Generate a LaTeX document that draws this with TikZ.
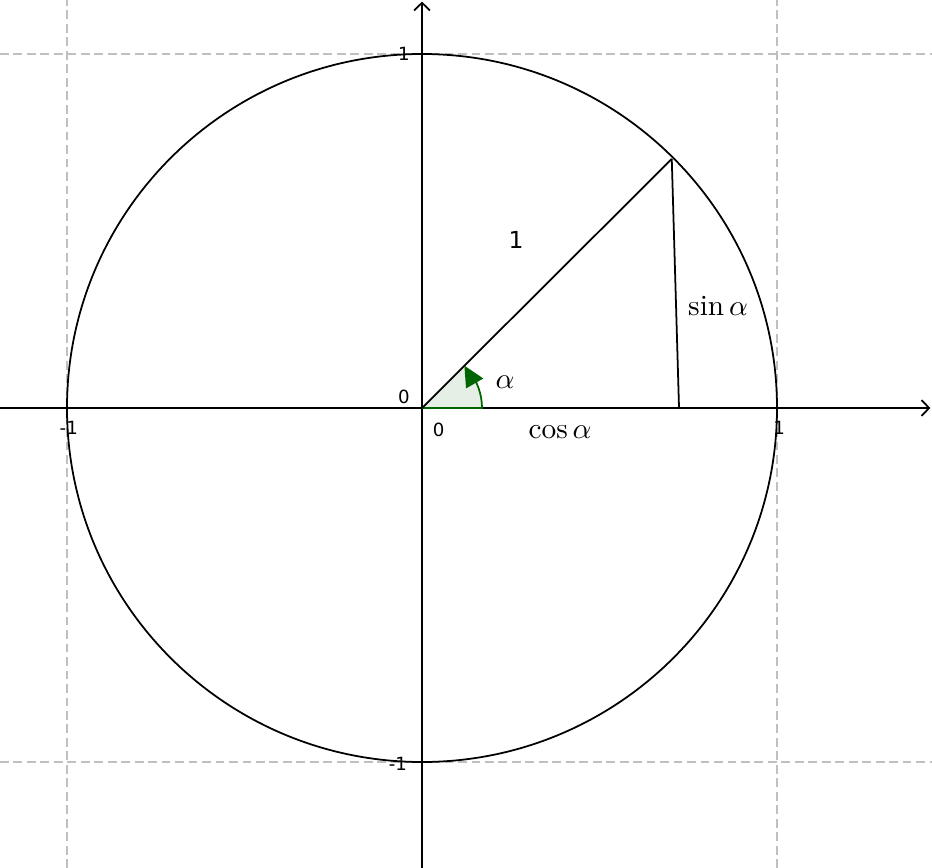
\documentclass[tikz,border=0pt]{standalone}
\usepackage{fontspec}
\newfontfamily\ggbfont{DejaVu Sans}
\usetikzlibrary{arrows.meta}
\definecolor{ggbgreen}{RGB}{0,100,0}
\definecolor{gridgray}{RGB}{192,192,192}

\tikzset{
    gridline/.style={gridgray, line width=0.6pt, dash pattern=on 3pt off 1.6pt},
    axis/.style={line width=0.6pt, -{Straight Barb[length=2.6pt,width=5.4pt]}},
    ticklabel/.style={font=\ggbfont\fontsize{6.2}{7}\selectfont, inner sep=0pt},
}

\begin{document}
\begin{tikzpicture}[x=4.26cm, y=4.248cm, line width=0.6pt]
    \useasboundingbox (-1.1887,-1.2994) rectangle (1.4366,1.1525);

    % grid
    \draw[gridline] (-1,-1.2994) -- (-1,1.1525);
    \draw[gridline] (1,-1.2994) -- (1,1.1525);
    \draw[gridline] (-1.1887,1) -- (1.4366,1);
    \draw[gridline] (-1.1887,-1) -- (1.4366,-1);

    % axes
    \coordinate (O) at (0,0);
    \coordinate (xl) at (-1.1887,0);
    \coordinate (xr) at (1.432,0);
    \coordinate (yb) at (0,-1.2994);
    \coordinate (yt) at (0,1.148);
    \draw[axis] (xl) -- (xr);
    \draw[axis] (yb) -- (yt);

    % unit circle
    \draw (O) circle (1);

    \coordinate (P) at (45:0.995);
    \coordinate (F) at (0.724,0);
    \coordinate (A) at (0.169,0);
    \coordinate (T) at (45:0.169);

    % angle
    \fill[ggbgreen, fill opacity=0.1] (O) -- (A) arc (0:45:0.169) -- cycle;
    \draw[ggbgreen] (O) -- (A) arc (0:40:0.169);
    \fill[ggbgreen, shift={(T)}, rotate=120] (0,0) -- (-7pt,3.4pt) -- (-7pt,-3.4pt) -- cycle;

    \draw (O) -- (P);
    \draw (P) -- (F);

    \node (alpha) at (0.234,0.073) {$\alpha$};
    \node[font=\ggbfont\fontsize{8}{9}\selectfont] (r) at (0.265,0.475) {1};
    \node (sin) at (0.834,0.288) {$\sin\alpha$};
    \node (cos) at (0.389,-0.068) {$\cos\alpha$};

    % tick labels
    \node[ticklabel] (o1) at (-0.051,0.031) {0};
    \node[ticklabel] (o2) at (0.047,-0.061) {0};
    \node[ticklabel] (xm) at (-0.995,-0.057) {-1};
    \node[ticklabel] (xp) at (1.006,-0.057) {1};
    \node[ticklabel] (yp) at (-0.051,1.0) {1};
    \node[ticklabel] (ym) at (-0.068,-1.006) {-1};
\end{tikzpicture}
\end{document}
